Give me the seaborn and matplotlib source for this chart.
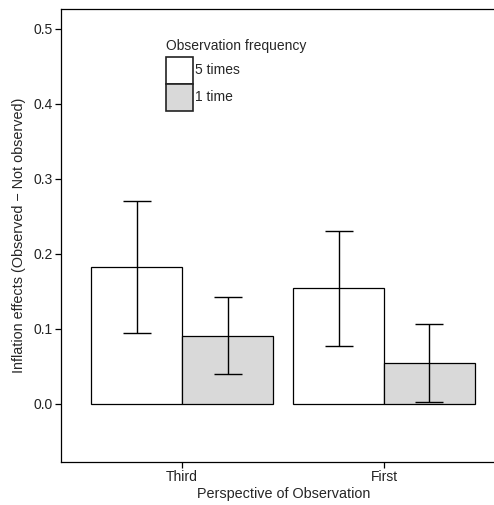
import matplotlib
matplotlib.use("Agg")
import matplotlib.pyplot as plt
import matplotlib.patches as mpatches
import seaborn as sns
import pandas as pd

perspectives = ["Third", "First"]
frequencies = ["5 times", "1 time"]
# mean inflation effect per perspective, in order of frequencies
means_third = [0.182, 0.091]
means_first = [0.154, 0.054]
# confidence interval bounds
lower_third = [0.094, 0.040]
upper_third = [0.270, 0.142]
lower_first = [0.077, 0.002]
upper_first = [0.231, 0.106]

rows = []
for persp, means, lows, highs in [
    ("Third", means_third, lower_third, upper_third),
    ("First", means_first, lower_first, upper_first),
]:
    for freq, m, lo, hi in zip(frequencies, means, lows, highs):
        rows.append({"perspective": persp, "frequency": freq,
                     "effect": m, "lo": lo, "hi": hi})
df = pd.DataFrame(rows)

sns.set_style("white")
plt.rcParams["font.family"] = ["Liberation Sans", "DejaVu Sans"]
plt.rcParams["axes.linewidth"] = 0.9

fig = plt.figure(figsize=(4.94, 5.05), dpi=100)
# the panel runs slightly past the right edge of the canvas
ax = fig.add_axes([61 / 494, 43 / 505, 445 / 494, 453.5 / 505])

colors = {"5 times": "white", "1 time": "#d9d9d9"}
sns.barplot(data=df, x="perspective", y="effect", hue="frequency",
            order=perspectives, hue_order=frequencies, palette=colors,
            edgecolor="black", linewidth=0.9, width=0.9, errorbar=None,
            saturation=1, legend=False, ax=ax)

# error bars centred on each drawn bar
for hue_i, freq in enumerate(frequencies):
    for cat_i, persp in enumerate(perspectives):
        bar = ax.patches[hue_i * len(perspectives) + cat_i]
        xc = bar.get_x() + bar.get_width() / 2
        row = df[(df.perspective == persp) & (df.frequency == freq)].iloc[0]
        ax.errorbar([xc], [row.effect],
                    yerr=[[row.effect - row.lo], [row.hi - row.effect]],
                    fmt="none", ecolor="black", elinewidth=1.0,
                    capsize=10, capthick=1.0)

ax.set_xlim(-0.6, 1.604)
ax.set_ylim(-0.0773, 0.527)
ax.set_yticks([0.0, 0.1, 0.2, 0.3, 0.4, 0.5])
ax.set_yticklabels(["0.0", "0.1", "0.2", "0.3", "0.4", "0.5"])

for side in ["left", "top", "bottom"]:
    ax.spines[side].set_visible(True)
    ax.spines[side].set_color("black")
ax.spines["right"].set_visible(False)

ax.tick_params(axis="both", which="both", direction="out", length=4,
               width=0.9, color="black", labelsize=10, labelcolor="#222222",
               left=True, bottom=True, pad=2)
ax.set_xlabel("Perspective of Observation", fontsize=10.4, labelpad=2)
ax.set_ylabel("Inflation effects (Observed \u2212 Not observed)",
              fontsize=10.4, labelpad=5)

handles = [mpatches.Patch(facecolor=colors[f], edgecolor="#222222",
                          linewidth=1.2, label=f) for f in frequencies]
leg = ax.legend(handles=handles, title="Observation frequency",
                loc="upper left", bbox_to_anchor=(160 / 494, 1 - 33 / 505),
                bbox_transform=fig.transFigure, frameon=False,
                fontsize=10, title_fontsize=10, handlelength=1.944,
                handleheight=2.614, labelspacing=0.0, handletextpad=0.15,
                borderaxespad=0, alignment="left")
# a little room between the legend title and the keys
leg._legend_box.sep = 3.0

fig.savefig("out.png", dpi=100)
